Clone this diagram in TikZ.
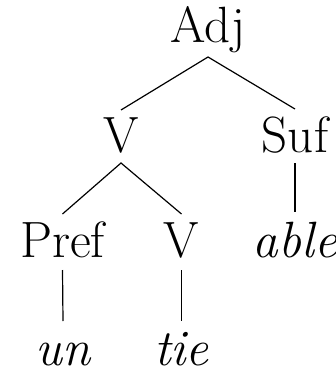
\documentclass[tikz,border=0pt]{standalone}
\usetikzlibrary{calc}
\begin{document}
\begin{tikzpicture}[x=1pt,y=1pt,
  lbl/.style={anchor=base,inner sep=0pt,font=\fontsize{51}{60}\selectfont},
  br/.style={line width=1.2pt}]
\useasboundingbox (0,0) rectangle (335,-369);
\node[lbl] (adj) at (208,-43) {Adj};
\node[lbl] (v1) at (121,-152) {V};
\node[lbl] (suf) at (295,-152) {Suf};
\node[lbl] (pref) at (62.5,-257) {Pref};
\node[lbl] (v2) at (181.5,-257) {V};
\node[lbl] (able) at (295,-257) {\itshape able};
\node[lbl] (un) at (63,-365) {\itshape un};
\node[lbl] (tie) at (181.5,-365) {\itshape tie};
\draw[br] ([yshift=42pt]v1.base) -- ([yshift=-14pt]adj.base) -- ([yshift=43pt]suf.base);
\draw[br] ([yshift=43pt]pref.base) -- ([yshift=-11pt]v1.base) -- ([yshift=43pt]v2.base);
\draw[br] ([yshift=-11pt]suf.base) -- ([yshift=45pt]able.base);
\draw[br] ([yshift=-13pt]pref.base) -- ([yshift=44pt]un.base);
\draw[br] ([yshift=-13pt]v2.base) -- ([yshift=44pt]tie.base);
\end{tikzpicture}
\end{document}
